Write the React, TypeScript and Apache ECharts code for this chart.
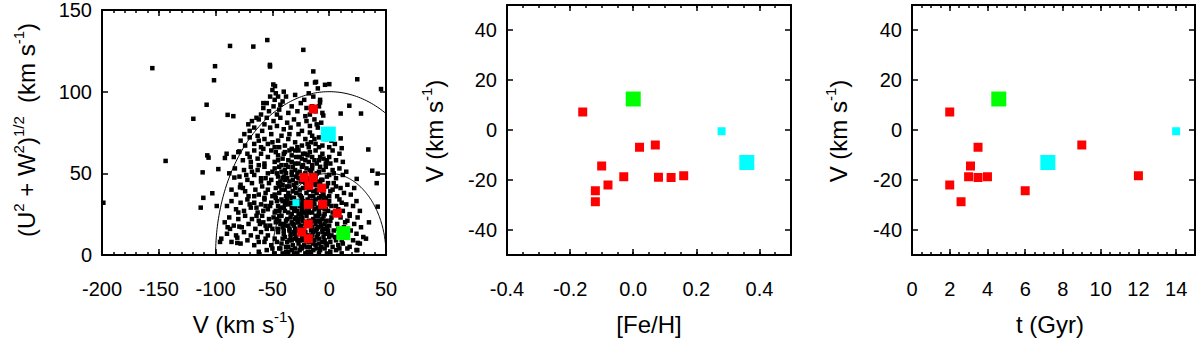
import React, { useEffect, useRef } from "react";
import * as echarts from "echarts";

const FONT = '"Liberation Sans", Arial, Helvetica, sans-serif';

// ---------- Panel 1: Toomre diagram ----------
const toomreRadii = [100, 50];

const toomreStars: [number, number][] = [
  // sparse outliers
  [-198.8, 32], [-155.7, 114.4], [-144, 57.6], [-119.6, 83.4], [-107.9, 92], [-100.5, 115.6], [-101.4, 107],
  [-87.3, 128], [-66.8, 127.6], [-54.5, 131.6], [-52.2, 116.4], [-22.8, 125.6], [-14, 112.4], [-12.5, 105.6],
  [-20, 104.6], [-11.6, 106], [-3.7, 104.2], [0.1, 104.6], [24.7, 107.6], [45.6, 101.6], [17.7, 91.4], [28, 86.6],
  [10.1, 86.6], [-5.2, 85.4], [-8.1, 93.4], [34.4, 64.6], [11, 65.4], [10.1, 71.4], [37.9, 51.6], [42.7, 49.8],
  [41.8, 44], [24.2, 46.6], [42.7, 29.6], [35, 20], [32.4, 10], [25.1, 7.4], [24.7, 3],
  [-107.3, 61], [-106.2, 59.6], [-90.3, 62], [-91.8, 59.4], [-79.1, 63.4], [-111.4, 50.6], [-97.6, 52.6],
  [-102.9, 37.8], [-110.8, 35], [-113.1, 29], [-99, 30], [-83.5, 47.4], [-78.5, 41.4], [-89.4, 17], [-87.3, 16],
  [-79.1, 17.4], [-96.1, 8], [-80.9, 10.6], [-80.9, 7.4], [-52.1, 115.4], [-47.7, 103.4], [-89.4, 85.8],
  [-84.4, 85], [-71.2, 80], [-74.7, 74], [-49.2, 104.4], [-58, 93],
  // Q 95-105
  [-50, 101], [-47, 99], [-45, 97], [-52, 97], [-40, 100], [-38, 97], [-30, 98], [-18, 99], [-14, 97], [-10, 102],
  [-8, 95], [-22, 95], [-48, 95], [-55, 93], [-43, 92],
  // Q 85-95
  [-58, 90], [-53, 88], [-49, 91], [-46, 86], [-44, 89], [-41, 94], [-36, 87], [-33, 91], [-28, 88], [-25, 93],
  [-20, 90], [-17, 86], [-12, 88], [-9, 91], [-6, 87], [-60, 86], [-64, 84], [-68, 82],
  // Q 75-85
  [-62, 83], [-57, 80], [-55, 84], [-52, 78], [-49, 82], [-46, 79], [-43, 84], [-40, 77], [-37, 81], [-34, 78],
  [-31, 83], [-27, 80], [-24, 76], [-20, 82], [-17, 79], [-13, 83], [-10, 78], [-7, 81], [-3, 77], [-66, 78],
  [-70, 76], [-59, 76],
  // Q 65-75
  [-78, 70], [-74, 67], [-70, 72], [-66, 68], [-63, 73], [-60, 66], [-57, 71], [-54, 68], [-51, 74], [-48, 66],
  [-45, 70], [-42, 73], [-39, 67], [-36, 71], [-33, 65], [-30, 69], [-27, 74], [-24, 67], [-21, 71], [-18, 66],
  [-15, 73], [-12, 68], [-9, 72], [-6, 67], [-3, 71], [0, 66], [2, 70], [-50, 69], [-44, 66], [-35, 74],
  [-28, 66], [-16, 69], [-62, 70], [-4, 74], [5, 68],
  // Q 55-65
  [-84, 60], [-80, 63], [-76, 58], [-72, 62], [-69, 57], [-66, 64], [-63, 59], [-60, 62], [-57, 56], [-54, 60],
  [-51, 64], [-48, 57], [-45, 61], [-42, 55], [-39, 63], [-36, 58], [-33, 61], [-30, 56], [-27, 64], [-24, 59],
  [-21, 62], [-18, 57], [-15, 60], [-12, 64], [-9, 58], [-6, 62], [-3, 56], [0, 60], [3, 64], [6, 58], [9, 62],
  [-47, 63], [-41, 59], [-29, 60], [-23, 55], [-17, 63], [-11, 56], [-5, 59], [1, 56], [-58, 65], [-70, 60],
  [-35, 64], [12, 57],
  // Q 45-55
  [-88, 50], [-83, 53], [-79, 48], [-75, 52], [-72, 46], [-69, 54], [-66, 49], [-63, 52], [-60, 47], [-57, 54],
  [-54, 50], [-51, 46], [-48, 53], [-45, 48], [-42, 51], [-39, 46], [-36, 54], [-33, 49], [-30, 52], [-27, 47],
  [-24, 54], [-21, 50], [-18, 46], [-15, 53], [-12, 48], [-9, 51], [-6, 46], [-3, 54], [0, 49], [3, 52], [6, 47],
  [9, 53], [12, 49], [15, 51], [-62, 55], [-56, 47], [-50, 51], [-44, 54], [-38, 50], [-32, 46], [-26, 51],
  [-20, 53], [-14, 49], [-8, 54], [-2, 48], [4, 50], [-68, 51], [-73, 49], [-40, 48], [-28, 50], [-16, 51],
  // Q 35-45
  [-86, 40], [-82, 37], [-78, 43], [-74, 39], [-71, 36], [-68, 44], [-65, 40], [-62, 37], [-59, 42], [-56, 38],
  [-53, 44], [-50, 36], [-47, 41], [-44, 38], [-41, 43], [-38, 36], [-35, 42], [-32, 39], [-29, 44], [-26, 37],
  [-23, 41], [-20, 38], [-17, 43], [-14, 36], [-11, 40], [-8, 44], [-5, 37], [-2, 42], [1, 39], [4, 44], [7, 36],
  [10, 41], [13, 38], [16, 43], [19, 37], [-60, 45], [-54, 40], [-48, 37], [-42, 40], [-36, 38], [-30, 41],
  [-24, 35], [-18, 40], [-12, 43], [-6, 39], [0, 36], [6, 42], [-76, 41], [-66, 36], [-45, 44], [-33, 35],
  [-21, 44], [-9, 35], [3, 40], [-57, 35], [-39, 40], [22, 41],
  // Q 25-35
  [-90, 30], [-86, 33], [-82, 28], [-78, 32], [-75, 27], [-72, 34], [-69, 29], [-66, 32], [-63, 26], [-60, 31],
  [-57, 34], [-54, 28], [-51, 32], [-48, 26], [-45, 30], [-42, 34], [-39, 27], [-36, 31], [-33, 25], [-30, 29],
  [-27, 33], [-24, 28], [-21, 32], [-18, 26], [-15, 30], [-12, 34], [-9, 27], [-6, 32], [-3, 28], [0, 33],
  [3, 26], [6, 30], [9, 34], [12, 27], [15, 31], [18, 25], [21, 30], [24, 33], [-64, 29], [-58, 27], [-52, 30],
  [-46, 33], [-40, 29], [-34, 32], [-28, 27], [-22, 30], [-16, 33], [-10, 29], [-4, 25], [2, 30], [8, 28],
  [-70, 31], [-56, 30], [-44, 27], [-37, 34], [-25, 31], [-13, 28], [-1, 31], [11, 32], [-80, 26], [27, 27],
  // Q 15-25
  [-92, 20], [-88, 23], [-84, 18], [-80, 22], [-77, 17], [-74, 24], [-71, 19], [-68, 22], [-65, 16], [-62, 21],
  [-59, 24], [-56, 18], [-53, 22], [-50, 16], [-47, 20], [-44, 24], [-41, 17], [-38, 21], [-35, 15], [-32, 19],
  [-29, 23], [-26, 17], [-23, 21], [-20, 24], [-17, 18], [-14, 22], [-11, 16], [-8, 20], [-5, 24], [-2, 17],
  [1, 21], [4, 15], [7, 19], [10, 23], [13, 17], [16, 21], [19, 15], [22, 19], [25, 23], [28, 17], [-64, 24],
  [-58, 20], [-52, 18], [-46, 22], [-40, 19], [-34, 23], [-28, 20], [-22, 16], [-16, 20], [-10, 24], [-4, 19],
  [2, 23], [8, 16], [14, 20], [-36, 18], [-30, 16], [-24, 23], [-18, 21], [-12, 19], [-6, 16], [0, 18],
  [-43, 19], [-49, 23], [-55, 16], [-61, 19], [18, 24],
  // Q 5-15
  [-95, 10], [-90, 13], [-86, 8], [-82, 12], [-78, 7], [-75, 14], [-72, 9], [-69, 12], [-66, 6], [-63, 11],
  [-60, 14], [-57, 8], [-54, 12], [-51, 6], [-48, 10], [-45, 14], [-42, 7], [-39, 11], [-36, 5], [-33, 9],
  [-30, 13], [-27, 7], [-24, 11], [-21, 14], [-18, 8], [-15, 12], [-12, 6], [-9, 10], [-6, 14], [-3, 7], [0, 11],
  [3, 5], [6, 9], [9, 13], [12, 7], [15, 11], [18, 5], [21, 9], [24, 13], [27, 7], [30, 11], [-46, 8], [-40, 13],
  [-34, 11], [-28, 9], [-22, 6], [-16, 10], [-10, 13], [-4, 9], [2, 12], [8, 6], [-37, 8], [-31, 14], [-25, 5],
  [-19, 12], [-13, 9], [-7, 5], [-1, 13], [5, 11], [11, 9], [-56, 10], [-62, 8],
  // Q 0-5
  [-62, 2], [-55, 3], [-48, 1], [-44, 4], [-38, 2], [-33, 3], [-28, 1], [-24, 4], [-19, 2], [-14, 3], [-9, 1],
  [-4, 4], [1, 2], [6, 3], [11, 1], [16, 4], [-50, 4], [-41, 1], [-30, 4], [-21, 1], [-11, 4], [-2, 1], [9, 4],
  [24, 3],
  // dense core
  [-43, 45], [-37, 47], [-31, 43], [-25, 45], [-19, 47], [-13, 44], [-7, 46], [-41, 33], [-35, 36], [-29, 38],
  [-23, 33], [-17, 36], [-11, 38], [-5, 34], [-42, 24], [-36, 26], [-30, 22], [-24, 26], [-18, 28], [-12, 24],
  [-6, 22], [-40, 15], [-34, 13], [-28, 15], [-22, 13], [-16, 15], [-10, 17], [-4, 13], [-38, 5], [-32, 6],
  [-26, 3], [-20, 5], [-14, 7], [-8, 3], [-2, 6], [-27, 56], [-21, 58], [-15, 55], [-33, 57], [-26, 40],
  [-20, 42], [-14, 39], [-8, 41], [-44, 42], [-27, 20], [-21, 19], [-15, 17], [-9, 21], [-3, 21], [-31, 27],
  [-25, 24], [-19, 31], [-13, 31], [-7, 29],
  [-39, 52], [-33, 51], [-23, 49], [-17, 52], [-11, 50], [-5, 52], [-37, 42], [-25, 36], [-19, 34], [-7, 36],
  [-1, 44], [-39, 31], [-33, 29], [-27, 25], [-15, 26], [-9, 25], [-1, 27], [-37, 22], [-31, 18], [-25, 18],
  [-13, 21], [-7, 18], [-1, 15], [-35, 9], [-29, 11], [-23, 9], [-17, 5], [-11, 11], [-5, 11], [1, 8],
  [-23, 62], [-19, 68], [-13, 71], [-9, 66], [-17, 75], [-11, 80], [-21, 85], [-15, 91],
  [-46, 50], [-41, 47], [-35, 45], [-29, 48], [-22, 45], [-10, 45], [-4, 42], [-47, 35], [-43, 29], [-38, 33],
  [-31, 35], [-26, 30], [-20, 28], [-14, 33], [-8, 31], [-3, 35], [-47, 27], [-44, 21], [-39, 18], [-33, 20],
  [-27, 22], [-21, 26], [-10, 21], [-4, 28], [-45, 16], [-41, 10], [-35, 16], [-30, 10], [-25, 14], [-20, 11],
  [-14, 14], [-9, 7], [-3, 16], [-43, 4], [-36, 2], [-31, 1], [-26, 9], [-16, 2], [-12, 15], [-6, 8],
  [-45, 58], [-38, 55], [-32, 54], [-26, 60], [-19, 61], [-13, 58], [-8, 60], [-2, 58], [-40, 62], [-30, 64],
];

const redToomre: [number, number][] = [
  [-14, 89.4], [-22.2, 47.4], [-14.3, 47.4], [-17.8, 42.6], [-6.6, 41], [-18.4, 31], [-5.7, 31], [7.1, 25.6],
  [-18.4, 19], [-24.2, 14], [-18.4, 10],
];
const cyanBigToomre: [number, number][] = [[-0.8, 74]];
const cyanSmallToomre: [number, number][] = [[-29.2, 32]];
const greenToomre: [number, number][] = [[12.4, 13.4]];

// ---------- Panel 2: V vs [Fe/H] ----------
const redFeH: [number, number][] = [
  [-0.16, 7.2], [-0.12, -24.3], [-0.12, -28.7], [-0.1, -14.4], [-0.08, -22], [-0.03, -18.7], [0.02, -6.9],
  [0.07, -6], [0.08, -18.9], [0.12, -19], [0.16, -18.3],
];
const greenFeH: [number, number][] = [[0.0, 12.4]];
const cyanSmallFeH: [number, number][] = [[0.28, -0.5]];
const cyanBigFeH: [number, number][] = [[0.36, -13]];

// ---------- Panel 3: V vs age ----------
const redAge: [number, number][] = [
  [2, 7.2], [2, -22], [2.6, -28.7], [3.1, -14.4], [3, -18.7], [3.5, -6.9], [3.5, -19], [4, -18.7], [6, -24.3],
  [9, -6], [12, -18.3],
];
const greenAge: [number, number][] = [[4.6, 12.4]];
const cyanBigAge: [number, number][] = [[7.2, -13]];
const cyanSmallAge: [number, number][] = [[14, -0.5]];

// tick labels
const feHTicks = [-0.4, -0.2, 0.0, 0.2, 0.4];
const ageTicks = [0, 2, 4, 6, 8, 10, 12, 14];
const vTicks = [-40, -20, 0, 20, 40];

const RED = "#ff0000";
const GREEN = "#00ff00";
const CYAN = "#00ffff";

function arcPoints(r: number): [number, number][] {
  const pts: [number, number][] = [];
  for (let d = 0; d <= 180; d += 1) {
    const a = (d * Math.PI) / 180;
    pts.push([r * Math.cos(a), r * Math.sin(a)]);
  }
  return pts;
}

const tickStyle = { color: "#000", width: 1.5 };
const labelStyle = { fontSize: 20, fontFamily: FONT, color: "#000" };

function xAxes(gridIndex: number, min: number, max: number, major: any, minor: number, formatter?: (v: number) => string) {
  const common = { type: "value", gridIndex, min, max, splitLine: { show: false } };
  const majorTick: any = { show: true, inside: true, length: 6, lineStyle: tickStyle };
  const lab: any = { show: true, margin: 24, ...labelStyle };
  const scaleInterval = major.interval;
  if (major.values) {
    majorTick.customValues = major.values;
    lab.customValues = major.values;
  }
  if (formatter) lab.formatter = formatter;
  const minorAxis = (position: string) => ({
    ...common,
    position,
    interval: minor,
    axisLine: { show: false, onZero: false },
    axisTick: { show: true, inside: true, length: 3, lineStyle: tickStyle },
    axisLabel: { show: false },
  });
  return [
    {
      ...common,
      position: "bottom",
      interval: scaleInterval,
      axisLine: { show: true, onZero: false, lineStyle: { color: "#000", width: 2 } },
      axisTick: majorTick,
      axisLabel: lab,
    },
    minorAxis("bottom"),
    {
      ...common,
      position: "top",
      interval: scaleInterval,
      axisLine: { show: true, onZero: false, lineStyle: { color: "#000", width: 2 } },
      axisTick: majorTick,
      axisLabel: { show: false },
    },
    minorAxis("top"),
  ];
}

function yAxes(gridIndex: number, min: number, max: number, interval: number, values?: number[]) {
  const tick: any = { show: true, inside: true, length: 6, lineStyle: tickStyle };
  const lab: any = { show: true, margin: 10, ...labelStyle };
  if (values) {
    tick.customValues = values;
    lab.customValues = values;
  }
  const common = { type: "value", gridIndex, min, max, interval, splitLine: { show: false } };
  return [
    {
      ...common,
      position: "left",
      axisLine: { show: true, onZero: false, lineStyle: { color: "#000", width: 2 } },
      axisTick: tick,
      axisLabel: lab,
    },
    {
      ...common,
      position: "right",
      axisLine: { show: true, onZero: false, lineStyle: { color: "#000", width: 2 } },
      axisTick: tick,
      axisLabel: { show: false },
    },
  ];
}

function scatter(data: [number, number][], color: string, size: number, g: number, z = 3) {
  return {
    type: "scatter",
    xAxisIndex: g * 4,
    yAxisIndex: g * 2,
    data,
    symbol: "rect",
    symbolSize: size,
    itemStyle: { color, opacity: 1 },
    silent: true,
    z,
  };
}

const rich = {
  m: { fontSize: 24, fontFamily: FONT, lineHeight: 30, fill: "#000" },
  s: { fontSize: 15, fontFamily: FONT, lineHeight: 16, fill: "#000", verticalAlign: "top" },
};

function title(x: number, y: number, text: string, rotate = false) {
  return {
    type: "text",
    x,
    y,
    rotation: rotate ? Math.PI / 2 : 0,
    silent: true,
    style: { text, rich, align: "center", verticalAlign: "middle", fill: "#000", fontSize: 24, fontFamily: FONT },
  };
}

export default function App() {
  const ref = useRef<HTMLDivElement>(null);
  useEffect(() => {
    if (!ref.current) return;
    const chart = echarts.init(ref.current, null, { renderer: "svg" });
    const option: any = {
      animation: false,
      backgroundColor: "#fff",
      grid: [
        { left: 102, top: 5, width: 284, height: 250 },
        { left: 507, top: 5, width: 284, height: 250 },
        { left: 912, top: 5, width: 283, height: 250 },
      ],
      xAxis: [
        ...xAxes(0, -200, 50, { interval: 50 }, 10),
        ...xAxes(1, -0.4, 0.5, { interval: 0.1, values: feHTicks }, 0.05, (v: number) => v.toFixed(1)),
        ...xAxes(2, 0, 15, { interval: 1, values: ageTicks }, 0.5),
      ],
      yAxis: [
        ...yAxes(0, 0, 150, 50),
        ...yAxes(1, -50, 50, 10, vTicks),
        ...yAxes(2, -50, 50, 10, vTicks),
      ],
      series: [
        ...toomreRadii.map((r) => ({
          type: "line",
          xAxisIndex: 0,
          yAxisIndex: 0,
          data: arcPoints(r),
          showSymbol: false,
          symbol: "none",
          clip: true,
          lineStyle: { color: "#000", width: 1 },
          silent: true,
          z: 1,
        })),
        scatter(toomreStars, "#000", 4.5, 0, 2),
        scatter(redToomre, RED, 9, 0),
        scatter(cyanBigToomre, CYAN, 15, 0),
        scatter(cyanSmallToomre, CYAN, 7, 0),
        scatter(greenToomre, GREEN, 14, 0),
        scatter(redFeH, RED, 9, 1),
        scatter(greenFeH, GREEN, 15, 1),
        scatter(cyanSmallFeH, CYAN, 8, 1),
        scatter(cyanBigFeH, CYAN, 15, 1),
        scatter(redAge, RED, 9, 2),
        scatter(greenAge, GREEN, 15, 2),
        scatter(cyanBigAge, CYAN, 15, 2),
        scatter(cyanSmallAge, CYAN, 8, 2),
      ],
      graphic: [
        title(26, 130, "{m|(U}{s|2}{m| + W}{s|2}{m|)}{s|1/2}{m|  (km s}{s|-1}{m|)}", true),
        title(244, 324, "{m|V (km s}{s|-1}{m|)}"),
        title(434, 131, "{m|V (km s}{s|-1}{m|)}", true),
        title(649, 324, "{m|[Fe/H]}"),
        title(838, 131, "{m|V (km s}{s|-1}{m|)}", true),
        title(1050, 324, "{m|t (Gyr)}"),
      ],
    };
    chart.setOption(option);
    return () => chart.dispose();
  }, []);
  return (
    <div
      ref={ref}
      style={{ position: "fixed", left: 0, top: 0, width: 1200, height: 341, background: "#fff" }}
    />
  );
}
